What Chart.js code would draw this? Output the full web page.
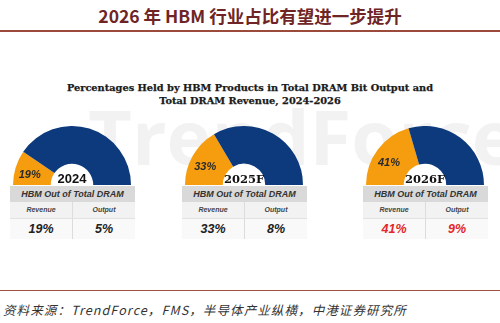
<!DOCTYPE html>
<html lang="zh">
<head>
<meta charset="UTF-8">
<title>HBM share of DRAM</title>
<script src="https://cdn.jsdelivr.net/npm/chart.js"></script>
<style>
  body { margin: 0; background: #fff; }
  #page { position: relative; width: 500px; height: 323px; overflow: hidden; background: #fff; }
  .abs { position: absolute; }
  #title { left: 0; top: 3px; width: 500px; text-align: center; font: bold 17.5px "Noto Sans CJK SC", sans-serif; color: #6f2525; }
  #rule1 { left: 0; top: 30px; width: 500px; height: 2px; background: #9b4a3c; }
  #sub { left: 0; top: 81px; width: 500px; text-align: center; font: bold 9.8px "DejaVu Serif", serif; line-height: 13px; color: #1a1a1a; -webkit-text-stroke: 0.25px #1a1a1a; }
  #mark { left: 88px; top: 116px; font: bold 76px "Open Sans", sans-serif; line-height: 40px; color: #f2f2f2; white-space: nowrap; }
  .tbl { width: 125px; font-family: "Liberation Sans", Arial, sans-serif; font-style: italic; font-weight: bold; color: #333; }
  .tbl .hd { height: 16px; line-height: 16px; background: #d9d9d9; text-align: center; font-size: 9px; }
  .tbl .row { display: flex; }
  .tbl .row div { flex: 1; text-align: center; }
  .tbl .lab { height: 16px; line-height: 16px; background: #f2f2f2; font-size: 7px; color: #444; border-bottom: 1px solid #e2e2e2; }
  .tbl .lab div:first-child, .tbl .val div:first-child { border-right: 1px solid #dcdcdc; }
  .tbl .val { height: 20px; line-height: 20px; background: #f9f9f9; font-size: 12.5px; }
  #rule2 { left: 0; top: 290px; width: 500px; height: 1px; background: #a0503f; }
  #src { left: 3px; top: 300px; font: italic 12.5px "Noto Sans CJK SC", sans-serif; color: #333; white-space: nowrap; letter-spacing: 1.1px; }
</style>
</head>
<body>
<div id="page">
  <div id="mark" class="abs">TrendForce</div>
  <div id="title" class="abs">2026 年 HBM 行业占比有望进一步提升</div>
  <div id="rule1" class="abs"></div>
  <div id="sub" class="abs">Percentages Held by HBM Products in Total DRAM Bit Output and<br>Total DRAM Revenue, 2024-2026</div>
  <div id="rule2" class="abs"></div>
  <div id="src" class="abs">资料来源：TrendForce，FMS，半导体产业纵横，中港证券研究所</div>
</div>

<script>
const years = ['2024', '2025F', '2026F'];
const revenueShare = [19, 33, 41];
const outputShare = [5, 8, 9];
const valueColors = ['#222', '#222', '#e3262b'];

const centersX = [72, 244, 425];
const radius = 59;
const baseY = 185;
// first year label is set in a sans face in the source, the forecasts in a serif
const yearFonts = ['bold 13px "Liberation Sans", Arial, sans-serif', 'bold 11.5px "DejaVu Serif", serif', 'bold 11.5px "DejaVu Serif", serif'];

const labelPlugin = {
  id: 'labels',
  afterDatasetsDraw(chart, args, opts) {
    const ctx = chart.ctx;
    const arc = chart.getDatasetMeta(0).data[0];
    const p = arc.tooltipPosition();
    ctx.save();
    ctx.textAlign = 'center';
    ctx.textBaseline = 'middle';
    ctx.fillStyle = '#2a2a2a';
    ctx.font = 'italic bold 11px "Liberation Sans", Arial, sans-serif';
    ctx.fillText(opts.value + '%', p.x - 4, p.y + 2);
    ctx.fillStyle = '#111';
    ctx.textBaseline = 'alphabetic';
    ctx.font = opts.font;
    ctx.fillText(opts.year, arc.x, arc.y - 2.5);
    ctx.restore();
  }
};

const page = document.getElementById('page');

years.forEach((yr, i) => {
  const wrap = document.createElement('div');
  wrap.className = 'abs';
  wrap.style.left = (centersX[i] - radius) + 'px';
  wrap.style.top = (baseY - radius) + 'px';
  const cv = document.createElement('canvas');
  cv.width = radius * 2;
  cv.height = radius;
  wrap.appendChild(cv);
  page.appendChild(wrap);

  new Chart(cv.getContext('2d'), {
    type: 'doughnut',
    data: {
      labels: ['HBM', 'Other DRAM'],
      datasets: [{
        data: [revenueShare[i], 100 - revenueShare[i]],
        backgroundColor: ['#f59c0f', '#0c3a7c'],
        borderWidth: 0
      }]
    },
    options: {
      responsive: false,
      animation: false,
      rotation: -90,
      circumference: 180,
      cutout: '36%',
      layout: { padding: 0 },
      plugins: {
        legend: { display: false },
        tooltip: { enabled: false },
        labels: { value: revenueShare[i], year: yr, font: yearFonts[i] }
      }
    },
    plugins: [labelPlugin]
  });

  const tbl = document.createElement('div');
  tbl.className = 'abs tbl';
  tbl.style.left = (centersX[i] - 62) + 'px';
  tbl.style.top = (baseY + 1) + 'px';
  tbl.innerHTML =
    '<div class="hd">HBM Out of Total DRAM</div>' +
    '<div class="row lab"><div>Revenue</div><div>Output</div></div>' +
    '<div class="row val" style="color:' + valueColors[i] + '"><div>' +
    revenueShare[i] + '%</div><div>' + outputShare[i] + '%</div></div>';
  page.appendChild(tbl);
});
</script>
</body>
</html>
